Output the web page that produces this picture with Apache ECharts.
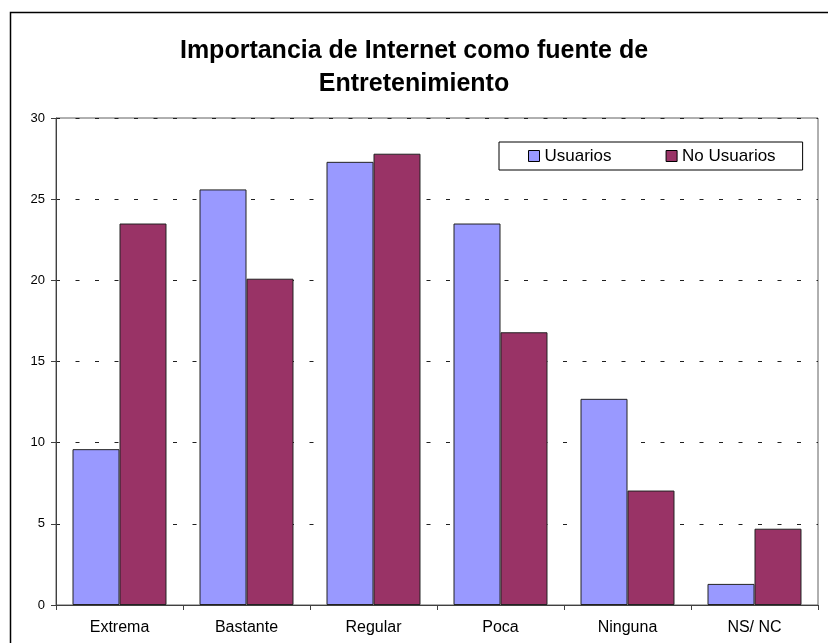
<!DOCTYPE html>
<html>
<head>
<meta charset="utf-8">
<script src="https://cdn.jsdelivr.net/npm/echarts@6/dist/echarts.min.js"></script>
<style>
  html, body { margin: 0; padding: 0; background: #fff; }
  #chart { width: 828px; height: 643px; }
</style>
</head>
<body>
<div id="chart"></div>
<script>
// Category labels and percentages per group
const categories = ['Extrema', 'Bastante', 'Regular', 'Poca', 'Ninguna', 'NS/ NC'];
const usuarios = [9.6, 25.6, 27.3, 23.5, 12.7, 1.3];
const noUsuarios = [23.5, 20.1, 27.8, 16.8, 7.05, 4.7];
const yTicks = { min: 0, max: 30, interval: 5 };

const FONT = '"Liberation Sans", Arial, sans-serif';

const chart = echarts.init(document.getElementById('chart'), null, { renderer: 'canvas' });

chart.setOption({
  backgroundColor: '#ffffff',
  animation: false,
  textStyle: { fontFamily: FONT, color: '#000' },
  title: {
    text: 'Importancia de Internet como fuente de\nEntretenimiento',
    left: 'center',
    top: 35,
    padding: 0,
    textStyle: {
      fontFamily: FONT,
      fontSize: 25,
      fontWeight: 'bold',
      color: '#000',
      lineHeight: 33
    }
  },
  graphic: [{
    type: 'rect',
    shape: { x: 10.5, y: 12.5, width: 840, height: 660 },
    style: { fill: null, stroke: '#000', lineWidth: 1.5 },
    silent: true,
    z: 100
  }],
  legend: {
    left: 499,
    top: 142,
    orient: 'horizontal',
    padding: [5, 27, 5, 29],
    itemGap: 54,
    itemWidth: 11,
    itemHeight: 11,
    borderColor: '#000',
    borderWidth: 1,
    icon: 'rect',
    textStyle: { fontFamily: FONT, fontSize: 17, color: '#000', lineHeight: 18 },
    data: [
      { name: 'Usuarios', itemStyle: { borderColor: '#000', borderWidth: 1 } },
      { name: 'No Usuarios', itemStyle: { borderColor: '#000', borderWidth: 1 } }
    ]
  },
  grid: {
    left: 56,
    right: 10,
    top: 118,
    bottom: 38,
    show: true,
    borderColor: '#606060',
    borderWidth: 1
  },
  xAxis: {
    type: 'category',
    data: categories,
    axisLine: { lineStyle: { color: '#404040', width: 1 } },
    axisTick: { show: true, length: 5, alignWithLabel: false, lineStyle: { color: '#404040' } },
    axisLabel: { fontFamily: FONT, fontSize: 16, color: '#000', margin: 15 },
    splitLine: { show: false }
  },
  yAxis: {
    type: 'value',
    min: yTicks.min,
    max: yTicks.max,
    interval: yTicks.interval,
    axisLine: { show: true, lineStyle: { color: '#404040', width: 1 } },
    axisTick: { show: true, length: 5, lineStyle: { color: '#404040' } },
    axisLabel: { fontFamily: FONT, fontSize: 13, color: '#000', margin: 11 },
    splitLine: { show: true, lineStyle: { color: '#202020', type: [4, 15.5], width: 1 } }
  },
  series: [
    {
      name: 'Usuarios',
      type: 'bar',
      data: usuarios,
      barGap: '0%',
      barCategoryGap: '26%',
      itemStyle: { color: '#9999FF', borderColor: '#222', borderWidth: 1 }
    },
    {
      name: 'No Usuarios',
      type: 'bar',
      data: noUsuarios,
      barGap: '0%',
      barCategoryGap: '26%',
      itemStyle: { color: '#993366', borderColor: '#222', borderWidth: 1 }
    }
  ]
});
</script>
</body>
</html>
